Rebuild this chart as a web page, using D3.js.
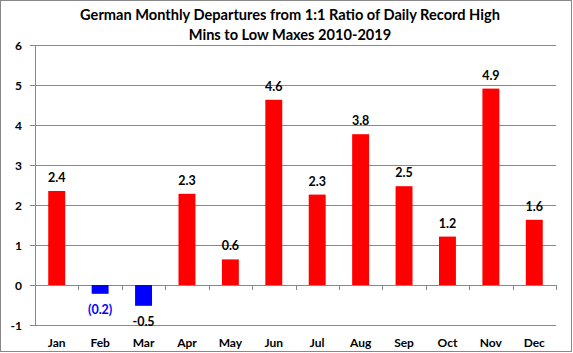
<!DOCTYPE html>
<html><head><meta charset="utf-8">
<script src="https://cdn.jsdelivr.net/npm/d3@7"></script>
<style>body{margin:0;background:#fff}svg{display:block}text{font-family:Lato,"Open Sans",sans-serif;font-weight:bold}</style>
</head><body>
<script>
const categories = ["Jan","Feb","Mar","Apr","May","Jun","Jul","Aug","Sep","Oct","Nov","Dec"];
const values = [2.35,-0.22,-0.52,2.28,0.64,4.63,2.26,3.77,2.47,1.21,4.91,1.63];
const valueLabels = ["2.4","(0.2)","-0.5","2.3","0.6","4.6","2.3","3.8","2.5","1.2","4.9","1.6"];
const yTicks = [-1,0,1,2,3,4,5,6];
const titleLines = ["German Monthly Departures from 1:1 Ratio of Daily Record High","Mins to Low Maxes 2010-2019"];

const W=573,H=353;
const svg=d3.select("body").append("svg").attr("width",W).attr("height",H);
svg.append("rect").attr("x",0.5).attr("y",0.5).attr("width",W-2).attr("height",H-2).attr("fill","#fff").attr("stroke","#888");

const left=35,right=556;
const x=d3.scaleBand().domain(categories).range([left,right]).paddingInner(0.61).paddingOuter(0.305);
const xb=d3.scaleBand().domain(categories).range([left,right]);
const y=d3.scaleLinear().domain([-1,6]).range([325,45]);

// gridlines
svg.append("g").selectAll("line").data(yTicks).join("line")
 .attr("x1",left-5).attr("x2",right).attr("y1",d=>Math.round(y(d))+0.5).attr("y2",d=>Math.round(y(d))+0.5)
 .attr("stroke","#888").attr("stroke-width",1);
// y axis line
svg.append("line").attr("x1",left+0.5).attr("x2",left+0.5).attr("y1",y(6)).attr("y2",y(-1)).attr("stroke","#888");
// y labels
svg.append("g").selectAll("text").data(yTicks).join("text")
 .attr("x",22).attr("y",d=>y(d)+4.5).attr("text-anchor","end").attr("font-size",12).attr("fill","#000").text(d=>d);

// bars
svg.append("g").selectAll("rect").data(values).join("rect")
 .attr("x",(d,i)=>x(categories[i])).attr("width",x.bandwidth())
 .attr("y",d=>y(Math.max(0,d))).attr("height",d=>Math.abs(y(d)-y(0)))
 .attr("fill",d=>d<0?"#0000ff":"#ff0000");

// x axis ticks at zero line
const bounds=categories.map(c=>xb(c)).concat([right]);
svg.append("g").selectAll("line").data(bounds).join("line")
 .attr("x1",d=>Math.round(d)+0.5).attr("x2",d=>Math.round(d)+0.5).attr("y1",y(0)).attr("y2",y(0)+5).attr("stroke","#888");

// value labels
svg.append("g").selectAll("text").data(values).join("text")
 .attr("x",(d,i)=>x(categories[i])+x.bandwidth()/2)
 .attr("y",(d,i)=>d>=0? y(d)-9 : y(d)+20)
 .attr("text-anchor","middle").attr("font-size",12.5)
 .attr("fill",(d,i)=>valueLabels[i].startsWith("(")?"#0000ff":"#000")
 .text((d,i)=>valueLabels[i]);

// category labels
svg.append("g").selectAll("text").data(categories).join("text")
 .attr("x",d=>x(d)+x.bandwidth()/2).attr("y",347).attr("text-anchor","middle").attr("font-size",12).attr("fill","#000").text(d=>d);

// title
svg.append("g").selectAll("text").data(titleLines).join("text")
 .attr("x",290).attr("y",(d,i)=>20+i*20).attr("text-anchor","middle").attr("font-size",14.6).attr("fill","#000").text(d=>d);
</script>
</body></html>
